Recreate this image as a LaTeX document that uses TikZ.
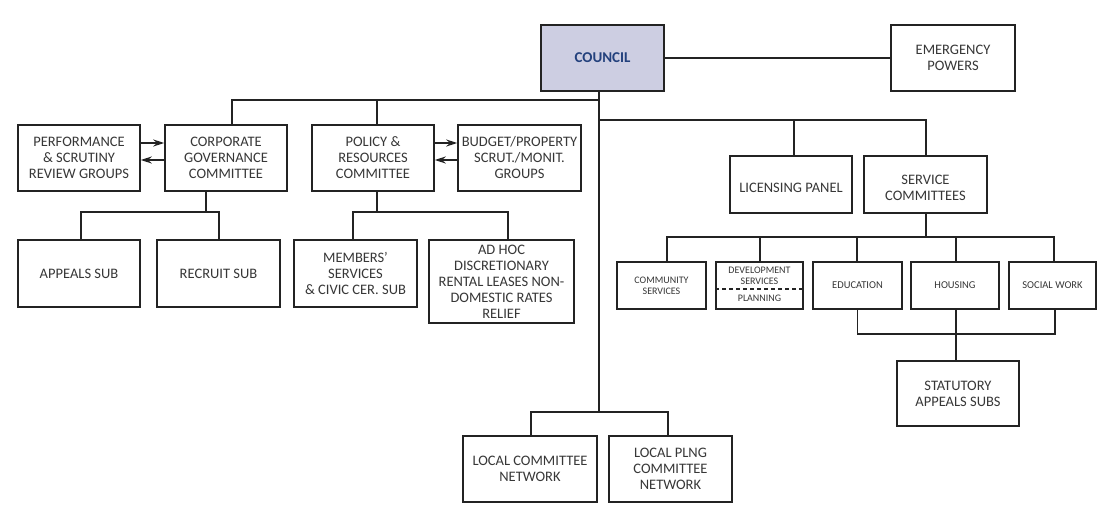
\documentclass[tikz,border=0pt]{standalone}
\usepackage{fontspec}
\setmainfont{Carlito}
\usetikzlibrary{arrows.meta}
\definecolor{councilfill}{RGB}{205,206,226}
\definecolor{councilblue}{RGB}{35,65,125}
\definecolor{linecol}{RGB}{35,35,35}
\definecolor{txt}{RGB}{55,55,55}
\begin{document}
\begin{tikzpicture}[x=1pt,y=-1pt,
  box/.style={draw=linecol, line width=1.5pt, fill=white, inner sep=0pt, align=center, text=txt,
    font=\fontsize{14.5}{16}\selectfont},
  smallbox/.style={box, font=\fontsize{10.5}{12}\selectfont},
  tinytext/.style={inner sep=0pt, align=center, text=txt, font=\fontsize{10}{11}\selectfont},
  conn/.style={draw=linecol, line width=1.5pt},
  arr/.style={conn, -{Stealth[length=11pt,width=7pt]}}
]
\useasboundingbox (0,0) rectangle (1099,506);
\fill[white] (0,0) rectangle (1099,506);

% top
\node[box, fill=councilfill, text=councilblue, font=\bfseries\fontsize{15}{17}\selectfont,
  minimum width=123, minimum height=66] (council) at (602.5,58) {COUNCIL};
\node[box, minimum width=124, minimum height=66] (emerg) at (953,58) {EMERGENCY\\POWERS};

% row 1
\node[box, minimum width=122, minimum height=66] (perf) at (79,158) {PERFORMANCE\\\& SCRUTINY\\REVIEW GROUPS};
\node[box, minimum width=122, minimum height=66] (corp) at (226,158) {CORPORATE\\GOVERNANCE\\COMMITTEE};
\node[box, minimum width=122, minimum height=66] (policy) at (373,158) {POLICY \&\\RESOURCES\\COMMITTEE};
\node[box, minimum width=123, minimum height=66] (budget) at (519.5,158) {BUDGET/PROPERTY\\SCRUT./MONIT.\\GROUPS};
\node[box, minimum width=122, minimum height=57] (licensing) at (791,184.5) {};
\node[inner sep=0pt, text=txt, font=\fontsize{14.5}{16}\selectfont] (lictxt) at (791,188) {LICENSING PANEL};
\node[box, minimum width=123, minimum height=57] (service) at (925.5,184.5) {};
\node[inner sep=0pt, align=center, text=txt, font=\fontsize{14.5}{16}\selectfont] (servtxt) at (925.5,188) {SERVICE\\COMMITTEES};

% row 2 left
\node[box, minimum width=122, minimum height=67] (appeals) at (79,273.5) {APPEALS SUB};
\node[box, minimum width=123, minimum height=67] (recruit) at (218.5,273.5) {RECRUIT SUB};
\node[box, minimum width=123, minimum height=67] (members) at (355.5,273.5) {MEMBERS'\\SERVICES\\\& CIVIC CER. SUB};
\node[box, minimum width=145, minimum height=83] (adhoc) at (501.5,281.5) {AD HOC\\DISCRETIONARY\\RENTAL LEASES NON-\\DOMESTIC RATES\\RELIEF};

% row 2 right (service committees)
\node[box, minimum width=89, minimum height=47] (community) at (661.5,285.5) {};
\node[tinytext] (communitytxt) at (community.center) {COMMUNITY\\SERVICES};
\node[box, minimum width=87, minimum height=47] (development) at (759.5,285.5) {};
\node[tinytext] (devtxt) at (759.5,276) {DEVELOPMENT\\SERVICES};
\node[tinytext] (plantxt) at (759.5,298.5) {PLANNING};
\node[smallbox, minimum width=89, minimum height=47] (education) at (857.5,285.5) {EDUCATION};
\node[smallbox, minimum width=88, minimum height=47] (housing) at (955,285.5) {HOUSING};
\node[smallbox, minimum width=87, minimum height=47] (social) at (1052.5,285.5) {SOCIAL WORK};

\node[box, minimum width=122, minimum height=65] (statutory) at (958,393.5) {STATUTORY\\APPEALS SUBS};

% bottom
\node[box, minimum width=134, minimum height=66] (localc) at (530,469) {LOCAL COMMITTEE\\NETWORK};
\node[box, minimum width=123, minimum height=66] (localp) at (670.5,469) {LOCAL PLNG\\COMMITTEE\\NETWORK};

% junction coordinates
\coordinate (trunkTop) at (599,91);
\coordinate (leftBar) at (599,100);
\coordinate (rightBar) at (599,120);
\coordinate (localBar) at (599,412);
\coordinate (cgBar) at (206,212);
\coordinate (prBar) at (377,212);
\coordinate (scBar) at (926,237);
\coordinate (stBar) at (956,334);

% connectors
\draw[conn] (council.east) -- (emerg.west);
\draw[conn] (trunkTop) -- (localBar);
\draw[conn] (leftBar) -| ([xshift=6]corp.north);
\draw[conn] ([xshift=4]policy.north) -- ([xshift=4]policy.north |- leftBar);
\draw[conn] (rightBar) -| ([xshift=0.5]service.north);
\draw[conn] ([xshift=3]licensing.north) -- ([xshift=3]licensing.north |- rightBar);

\draw[arr] ([yshift=15]perf.east) -- ([yshift=15]corp.west);
\draw[arr] ([yshift=-2]corp.west) -- ([yshift=-2]perf.east);
\draw[arr] ([yshift=15]policy.east) -- ([yshift=15]budget.west);
\draw[arr] ([yshift=-2]budget.west) -- ([yshift=-2]policy.east);

\draw[conn] ([xshift=-20]corp.south) -- (cgBar);
\draw[conn] ([xshift=2]appeals.north) |- ([xshift=0.5]recruit.north |- cgBar) -- ([xshift=0.5]recruit.north);
\draw[conn] ([xshift=4]policy.south) -- (prBar);
\draw[conn] ([xshift=-2.5]members.north) |- ([xshift=6.5]adhoc.north |- prBar) -- ([xshift=6.5]adhoc.north);

\draw[conn] ([xshift=0.5]service.south) -- (scBar);
\draw[conn] ([xshift=5.5]community.north) |- ([xshift=1.5]social.north |- scBar) -- ([xshift=1.5]social.north);
\draw[conn] ([xshift=0.5]development.north) -- ([xshift=0.5]development.north |- scBar);
\draw[conn] ([xshift=-0.5]education.north) -- ([xshift=-0.5]education.north |- scBar);
\draw[conn] ([xshift=1]housing.north) -- ([xshift=1]housing.north |- scBar);

\draw[conn] (education.south) |- ([xshift=2.5]social.south |- stBar) -- ([xshift=2.5]social.south);
\draw[conn] ([xshift=1]housing.south) -- ([xshift=-2]statutory.north);

\draw[conn] ([xshift=1]localc.north) |- ([xshift=-2.5]localp.north |- localBar) -- ([xshift=-2.5]localp.north);

% dashed divider in development box
\draw[draw=linecol, line width=1.3pt, dash pattern=on 4pt off 3pt] (development.west |- 0,289) -- (development.east |- 0,289);
\end{tikzpicture}
\end{document}
